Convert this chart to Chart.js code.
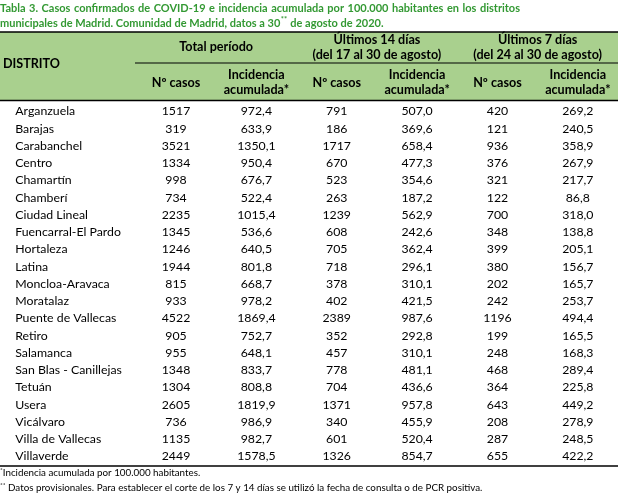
<!DOCTYPE html>
<html><head><meta charset="utf-8">
<script src="https://cdn.jsdelivr.net/npm/chart.js@4/dist/chart.umd.min.js"></script>
<style>html,body{margin:0;padding:0;background:#fff}#wrap{width:618px;height:495px;position:relative}</style>
</head><body><div id="wrap"><canvas id="c" width="618" height="495"></canvas></div>
<script>
const districts = ["Arganzuela","Barajas","Carabanchel","Centro","Chamartín","Chamberí","Ciudad Lineal","Fuencarral-El Pardo","Hortaleza","Latina","Moncloa-Aravaca","Moratalaz","Puente de Vallecas","Retiro","Salamanca","San Blas - Canillejas","Tetuán","Usera","Vicálvaro","Villa de Vallecas","Villaverde"];
const totalCases = [1517,319,3521,1334,998,734,2235,1345,1246,1944,815,933,4522,905,955,1348,1304,2605,736,1135,2449];
const totalIncidence = [972.4,633.9,1350.1,950.4,676.7,522.4,1015.4,536.6,640.5,801.8,668.7,978.2,1869.4,752.7,648.1,833.7,808.8,1819.9,986.9,982.7,1578.5];
const cases14 = [791,186,1717,670,523,263,1239,608,705,718,378,402,2389,352,457,778,704,1371,340,601,1326];
const incidence14 = [507.0,369.6,658.4,477.3,354.6,187.2,562.9,242.6,362.4,296.1,310.1,421.5,987.6,292.8,310.1,481.1,436.6,957.8,455.9,520.4,854.7];
const cases7 = [420,121,936,376,321,122,700,348,399,380,202,242,1196,199,248,468,364,643,208,287,655];
const incidence7 = [269.2,240.5,358.9,267.9,217.7,86.8,318.0,138.8,205.1,156.7,165.7,253.7,494.4,165.5,168.3,289.4,225.8,449.2,278.9,248.5,422.2];

const titleLine1 = "Tabla 3. Casos confirmados de COVID-19 e incidencia acumulada por 100.000 habitantes en los distritos";
const titleLine2a = "municipales de Madrid. Comunidad de Madrid, datos a 30";
const titleLine2b = " de agosto de 2020.";
const groupHeaders = [["Total período"],["Últimos 14 días","(del 17 al 30 de agosto)"],["Últimos 7 días","(del 24 al 30 de agosto)"]];
const subHeaders = [["Nº casos"],["Incidencia","acumulada*"],["Nº casos"],["Incidencia","acumulada*"],["Nº casos"],["Incidencia","acumulada*"]];
const rowHeader = "DISTRITO";
const footnote1 = "Incidencia acumulada por 100.000 habitantes.";
const footnote2 = " Datos provisionales. Para establecer el corte de los 7 y 14 días se utilizó la fecha de consulta o de PCR positiva.";

const FONT = "Lato, 'Open Sans', sans-serif";
const fmtInc = v => v.toFixed(1).replace('.', ',');

const columns = [
  {vals: districts, fmt: s => s, align: 'left'},
  {vals: totalCases, fmt: String, align: 'center'},
  {vals: totalIncidence, fmt: fmtInc, align: 'center'},
  {vals: cases14, fmt: String, align: 'center'},
  {vals: incidence14, fmt: fmtInc, align: 'center'},
  {vals: cases7, fmt: String, align: 'center'},
  {vals: incidence7, fmt: fmtInc, align: 'center'}
];
const colX = [0,2,3,4,5,6,7];

const datasets = columns.map((c, k) => ({
  label: 'col' + k,
  data: c.vals.map((v, r) => ({x: colX[k], y: r, t: c.fmt(v)})),
  pointRadius: 0, pointHoverRadius: 0, showLine: false,
  _align: c.align
}));

const tablePlugin = {
  id: 'tablePlugin',
  beforeDatasetsDraw(chart) {
    const ctx = chart.ctx;
    ctx.save();
    ctx.fillStyle = '#a9d08e';
    ctx.fillRect(0, 32, 618, 68);
    ctx.strokeStyle = '#000';
    ctx.lineWidth = 1.6;
    ctx.beginPath(); ctx.moveTo(0, 32); ctx.lineTo(618, 32); ctx.stroke();
    ctx.beginPath(); ctx.moveTo(0, 100.5); ctx.lineTo(618, 100.5); ctx.stroke();
    ctx.beginPath(); ctx.moveTo(0, 466); ctx.lineTo(618, 466); ctx.stroke();
    ctx.lineWidth = 1.2;
    ctx.beginPath(); ctx.moveTo(135, 63); ctx.lineTo(618, 63); ctx.stroke();
    ctx.restore();
  },
  afterDatasetsDraw(chart) {
    const ctx = chart.ctx;
    const xs = chart.scales.x;
    ctx.save();
    ctx.textBaseline = 'middle';
    // cells
    ctx.fillStyle = '#000';
    ctx.font = "12.3px " + FONT;
    chart.data.datasets.forEach((ds, k) => {
      const meta = chart.getDatasetMeta(k);
      ctx.textAlign = ds._align;
      meta.data.forEach((pt, i) => {
        ctx.fillText(ds.data[i].t, pt.x, pt.y + 0.5);
      });
    });
    // headers
    ctx.font = "bold 12.6px " + FONT;
    ctx.textAlign = 'left';
    ctx.fillText(rowHeader, 3, 64);
    ctx.textAlign = 'center';
    const gc = [2.5, 4.5, 6.5];
    groupHeaders.forEach((g, j) => {
      const x = xs.getPixelForValue(gc[j]);
      if (g.length === 1) ctx.fillText(g[0], x, 46.5);
      else { ctx.fillText(g[0], x, 40); ctx.fillText(g[1], x, 55); }
    });
    subHeaders.forEach((h, j) => {
      const x = xs.getPixelForValue(colX[j + 1]);
      if (h.length === 1) ctx.fillText(h[0], x, 83);
      else { ctx.fillText(h[0], x, 75); ctx.fillText(h[1], x, 90); }
    });
    // title
    ctx.fillStyle = '#339933';
    ctx.font = "bold 11px " + FONT;
    ctx.textAlign = 'left';
    const words = titleLine1.split(' ');
    const target = 520;
    const wsum = words.reduce((a, w) => a + ctx.measureText(w).width, 0);
    const gap = (target - wsum) / (words.length - 1);
    let x = 0;
    words.forEach(w => { ctx.fillText(w, x, 8); x += ctx.measureText(w).width + gap; });
    ctx.fillText(titleLine2a, 0, 23);
    let w2 = ctx.measureText(titleLine2a).width;
    ctx.font = "bold 7.5px " + FONT;
    ctx.fillText("**", w2 + 0.5, 20);
    let ws = ctx.measureText("**").width;
    ctx.font = "bold 11px " + FONT;
    ctx.fillText(titleLine2b, w2 + ws + 1, 23);
    // footnotes
    ctx.fillStyle = '#000';
    ctx.font = "6.5px " + FONT;
    ctx.fillText("*", 0, 470);
    ctx.fillText("**", 0, 485);
    const s1 = ctx.measureText("*").width, s2 = ctx.measureText("**").width;
    ctx.font = "9.8px " + FONT;
    ctx.fillText(footnote1, s1, 473);
    ctx.fillText(footnote2, s2, 488);
    ctx.restore();
  }
};

new Chart(document.getElementById('c'), {
  type: 'scatter',
  data: {datasets},
  options: {
    responsive: false, animation: false, events: [],
    layout: {padding: 0},
    plugins: {legend: {display: false}, tooltip: {enabled: false}, title: {display: false}},
    scales: {
      x: {type: 'linear', display: false, min: -0.19, max: 7.5},
      y: {type: 'linear', display: false, reverse: true, min: -6.435, max: 22.26}
    }
  },
  plugins: [tablePlugin]
});
</script></body></html>
